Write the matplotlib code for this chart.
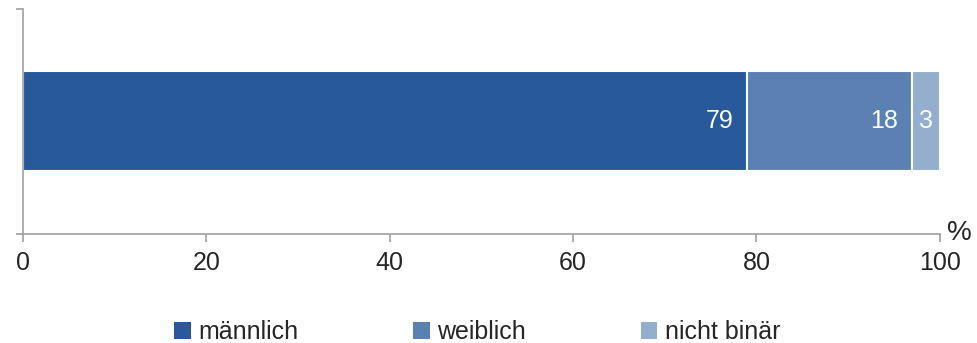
import matplotlib.pyplot as plt
from matplotlib.patches import Patch

plt.rcParams['font.family'] = ['Liberation Sans', 'DejaVu Sans']

categories = ['männlich', 'weiblich', 'nicht binär']
values = [79, 18, 3]
colors = ['#28599a', '#5b81b3', '#93aece']
ticks = [0, 20, 40, 60, 80, 100]

fig = plt.figure(figsize=(9.78, 3.43), dpi=100)
ax = fig.add_axes([0.0235, 0.318, 0.9375, 0.656])

left = 0
for cat, val, col in zip(categories, values, colors):
    ax.barh(0.5, val, left=left, height=0.444, color=col, edgecolor='white', linewidth=1.5)
    end = left + val
    if val >= 10:
        ax.annotate(str(val), xy=(end, 0.5), xytext=(-10, 0), textcoords='offset points',
                    ha='right', va='center', color='white', fontsize=18)
    else:
        ax.text(left + val / 2, 0.5, str(val), ha='center', va='center', color='white', fontsize=18)
    left = end

ax.set_xlim(0, 100)
ax.set_ylim(0, 1)
ax.set_xticks(ticks)
ax.set_xticklabels([str(t) for t in ticks], fontsize=18, color='#262626')
ax.set_yticks([0, 1])
ax.set_yticklabels([])
ax.tick_params(axis='x', direction='out', length=6, width=1.2, color='#a0a0a0', pad=6)
ax.tick_params(axis='y', direction='out', length=5, width=1.2, color='#a0a0a0')
for side in ['top', 'right']:
    ax.spines[side].set_visible(False)
for side in ['left', 'bottom']:
    ax.spines[side].set_color('#a0a0a0')
    ax.spines[side].set_linewidth(1.2)

ax.annotate('%', xy=(1, 0), xycoords='axes fraction', xytext=(5, -4.5), textcoords='offset points',
            fontsize=20, color='#262626', ha='left', va='baseline')

handles = [Patch(facecolor=c, edgecolor='none') for c in colors]
fig.legend(handles, categories, loc='center', bbox_to_anchor=(0.488, 0.032), ncol=3, frameon=False,
           fontsize=18, handlelength=0.65, handleheight=0.65, handletextpad=0.3, columnspacing=4.6,
           labelcolor='#262626')

fig.savefig('out.png', dpi=100)
